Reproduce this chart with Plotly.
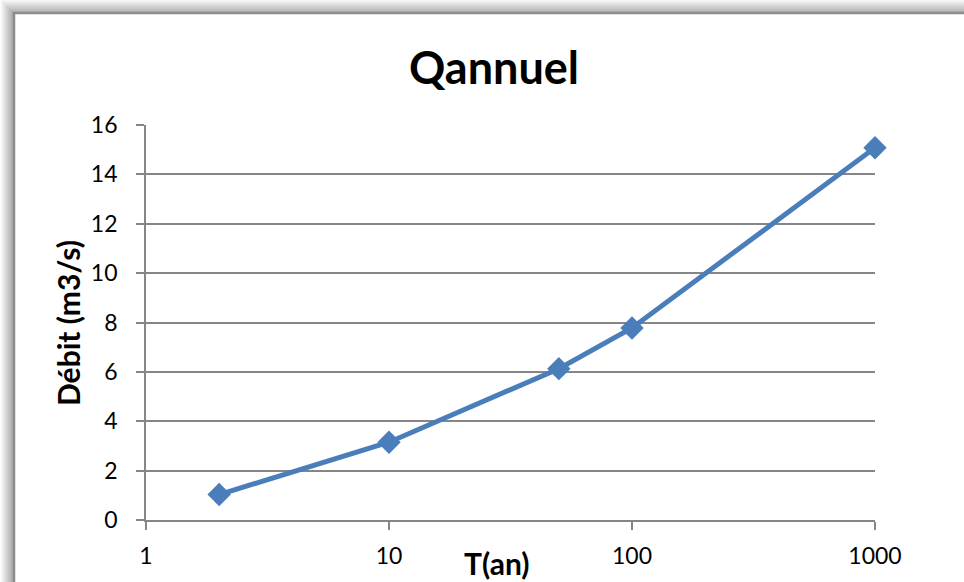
import plotly.graph_objects as go

T_years = [2, 10, 50, 100, 1000]
debit = [1.03, 3.15, 6.13, 7.78, 15.08]
x_ticks = [1, 10, 100, 1000]
x_tick_labels = ["1", "10", "100", "1000"]
y_ticks = [0, 2, 4, 6, 8, 10, 12, 14, 16]

W, H = 964, 582
L, R, TOP, BOT = 146, 875, 125, 520
pw, ph = R - L, BOT - TOP

def px(x):
    return (x - L) / pw

def py(y):
    return (BOT - y) / ph

FONT = "Lato, 'Open Sans', sans-serif"

fig = go.Figure()
fig.add_trace(go.Scatter(
    x=T_years, y=debit, mode="lines+markers",
    line=dict(color="#4A7EBB", width=5),
    marker=dict(symbol="diamond", size=18, color="#4A7EBB"),
    showlegend=False, cliponaxis=False,
))

shapes = []
for k in range(13, 0, -1):
    g = int(250 - (13 - k) * 8)
    shapes.append(dict(type="rect", xref="paper", yref="paper",
                       x0=px(14 - k), x1=px(990), y0=py(620), y1=py(13 - k),
                       line=dict(color=f"rgb({g},{g},{g})", width=1.2),
                       fillcolor="rgba(0,0,0,0)", layer="below"))
shapes.append(dict(type="rect", xref="paper", yref="paper",
                   x0=px(14), x1=px(990), y0=py(620), y1=py(13),
                   line=dict(color="#8C8C8C", width=2.5),
                   fillcolor="white", layer="below"))

annotations = [
    dict(text="<b>T(an)</b>", xref="paper", yref="paper", x=px(497), y=py(563),
         xanchor="center", yanchor="middle", showarrow=False,
         font=dict(size=30, family=FONT)),
    dict(text="<b>Débit (m3/s)</b>", xref="paper", yref="paper", x=px(68), y=py(323),
         xanchor="center", yanchor="middle", showarrow=False, textangle=-90,
         font=dict(size=30, family=FONT)),
]

fig.update_layout(
    width=W, height=H,
    margin=dict(l=L, r=W - R, t=TOP, b=H - BOT),
    paper_bgcolor="white", plot_bgcolor="white",
    shapes=shapes, annotations=annotations,
    font=dict(family=FONT, color="black", size=22),
    title=dict(text="<b>Qannuel</b>", x=px(494), xanchor="center",
               xref="paper", y=1 - 68 / H, yanchor="middle",
               font=dict(size=45, family=FONT)),
    xaxis=dict(type="log", range=[0, 3], tickvals=x_ticks, ticktext=x_tick_labels,
               showgrid=False, showline=True, linecolor="#868686", linewidth=1.8,
               ticks="outside", ticklen=8, tickwidth=1.8, tickcolor="#868686",
               tickfont=dict(size=23), zeroline=False, ticklabelstandoff=6),
    yaxis=dict(range=[0, 16], tickvals=y_ticks, showgrid=True,
               gridcolor="#868686", gridwidth=1.8,
               showline=True, linecolor="#868686", linewidth=1.8,
               ticks="outside", ticklen=8, tickwidth=1.8, tickcolor="#868686",
               tickfont=dict(size=23), zeroline=False, ticklabelstandoff=14),
)

fig.write_html("out.html", config={"displayModeBar": False},
               post_script="document.body.style.margin='0';document.body.style.overflow='hidden';")
